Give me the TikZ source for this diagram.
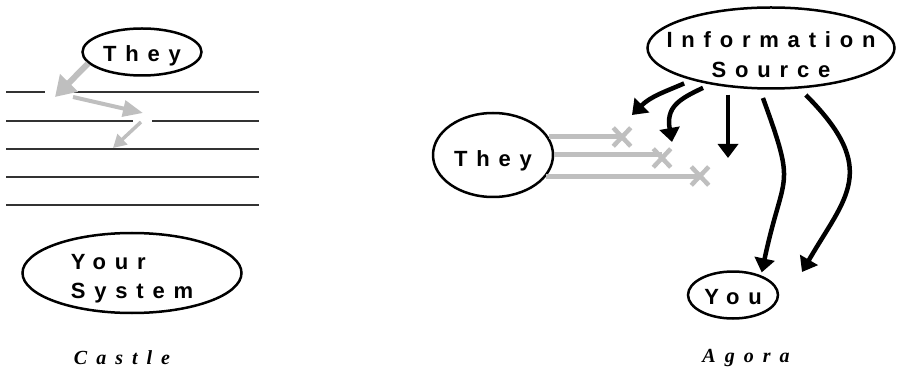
\documentclass[tikz,border=0pt]{standalone}
\usepackage{fontspec}
\newfontfamily\actorfont[LetterSpace=40]{Liberation Sans}
\newfontfamily\capfont[LetterSpace=45]{Liberation Serif}
\usetikzlibrary{shapes.geometric, shapes.misc}
\usetikzlibrary{arrows.meta}

\tikzset{
  actor/.style={draw, ellipse, line width=2.5pt, inner xsep=-40pt, inner ysep=-10pt,
    align=center, text depth=0pt,
    font=\actorfont\bfseries\fontsize{22}{30}\selectfont},
  caption/.style={anchor=base, font=\capfont\bfseries\itshape\fontsize{20}{24}\selectfont},
  wall/.style={line width=2.2pt, black!80},
  leak/.style={gray!50, line width=#1},
  feed/.style={line width=4.5pt, -{Triangle[length=14pt, width=20pt]}},
  blocked/.style={gray!50, line width=5pt},
  cut/.style={cross out, draw=gray!50, line width=4.5pt, inner sep=0pt,
    minimum width=13pt, minimum height=14pt},
}

\begin{document}
\begin{tikzpicture}[x=1pt, y=-1pt]
  \useasboundingbox (0,0) rectangle (901,371);

  % castle: walls between them and your system
  \node[actor, text height=20pt, minimum width=119pt, minimum height=47pt] (they) at (142,52) {They};
  \node[actor, align=left, text height=50pt, font=\actorfont\bfseries\fontsize{22}{29}\selectfont,
    minimum width=219pt, minimum height=80pt] (sys) at (132,273) {Your\\System};
  \node[caption] (castle) at (122,364) {Castle};

  \draw[wall] (6,92) -- (45,92);
  \draw[wall] (74,92) -- (259,92);
  \draw[wall] (6,121) -- (133,121);
  \draw[wall] (152,121) -- (259,121);
  \foreach \y in {149,177,205}
    \draw[wall] (6,\y) -- (259,\y);

  % getting in through the gaps
  \coordinate (gap1) at (55,97);
  \coordinate (hop1) at (73,97);
  \coordinate (gap2) at (143,113);
  \coordinate (hop2) at (141,122);
  \coordinate (wall3) at (113,148);
  \draw[leak=6pt, -{Triangle[length=20pt, width=24pt]}] (they.192) -- (gap1);
  \draw[leak=4pt, -{Triangle[length=20pt, width=16pt]}] (hop1) -- (gap2);
  \draw[leak=3.5pt, -{Triangle[length=13pt, width=14pt]}] (hop2) -- (wall3);

  % agora: one source, open to everyone
  \node[actor, text height=60pt, minimum width=247pt, minimum height=81pt] (src) at (771,48) {Information\\Source};
  \node[actor, text height=24pt, minimum width=120pt, minimum height=84pt] (them) at (493,155) {They};
  \node[actor, text height=18pt, minimum width=90pt, minimum height=47pt] (you) at (733,295) {You};
  \node[caption] (agora) at (746,362) {Agora};

  % their channels are cut
  \node[cut] (cut1) at (622,137) {};
  \node[cut] (cut2) at (662,158) {};
  \node[cut] (cut3) at (700,176) {};
  \draw[blocked] (them.18) -- (them.18 -| cut1);
  \draw[blocked] (them.east) -- (them.east -| cut2);
  \draw[blocked] (them.-22) -- (them.-22 -| cut3);

  % what the source sends out
  \coordinate (tipA) at (632,115);
  \coordinate (tipB) at (672,142);
  \coordinate (tipC) at (728,158);
  \coordinate (tipE) at (802,272);
  \draw[feed, shorten <=8pt] (src.202) to[out=204, in=45] (tipA);
  \draw[feed, shorten <=8pt] (src.211) to[out=205, in=100, looseness=1.3] (tipB);
  \draw[feed, shorten <=5pt] (src.south -| tipC) -- (tipC);
  \draw[feed, shorten <=9pt, shorten >=3pt] (src.255)
    to[out=-70, in=78, looseness=1.5] (you.35);
  \draw[feed, shorten <=9pt] (src.305)
    to[out=-45, in=60, out looseness=1.6, in looseness=1.2] (tipE);
\end{tikzpicture}
\end{document}
